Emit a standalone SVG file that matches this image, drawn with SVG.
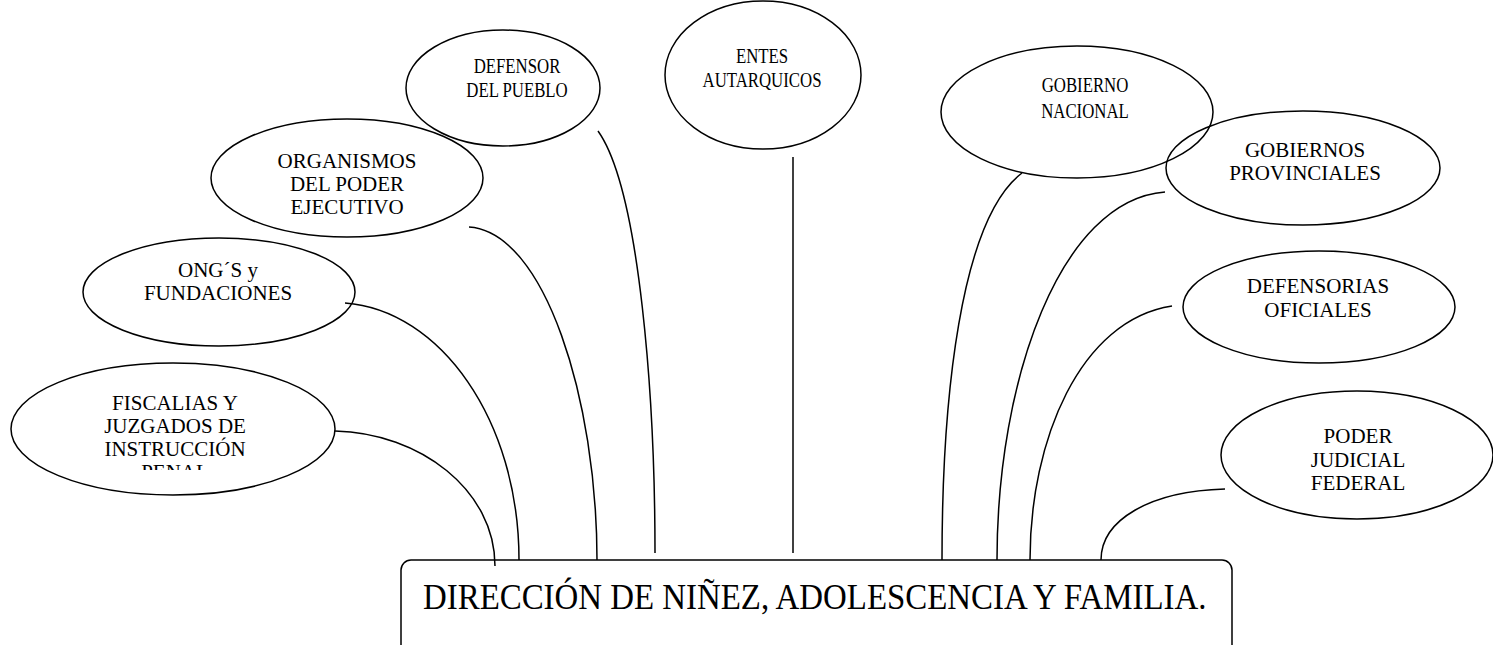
<svg xmlns="http://www.w3.org/2000/svg" width="1493" height="645" viewBox="0 0 1493 645">
<defs>
<style>
.n{fill:none;stroke:#000;stroke-width:1.5}
.t{font-family:"Liberation Serif","Times New Roman",serif;font-size:21px;fill:#000;text-anchor:middle}
.m{font-family:"Liberation Serif","Times New Roman",serif;font-size:35px;fill:#000}
.c{fill:none;stroke:#000;stroke-width:1.5}
</style>
<clipPath id="clipF"><rect x="0" y="360" width="360" height="110"/></clipPath>
<clipPath id="clipO"><rect x="200" y="110" width="300" height="106"/></clipPath>
</defs>
<rect width="1493" height="645" fill="#fff"/>
<g id="connectors">
<path class="c" d="M335,431 C420,433 495,490 495,566"/>
<path class="c" d="M345,303 C440,310 519,420 519,560"/>
<path class="c" d="M469,227 C545,232 597,400 597,560"/>
<path class="c" d="M598,131 C640,190 655,400 655,553"/>
<path class="c" d="M793,157 L793,553"/>
<path class="c" d="M1022,173 C960,220 942,400 942,560"/>
<path class="c" d="M1165,192 C1060,200 997,380 997,560"/>
<path class="c" d="M1172,306 C1080,320 1030,440 1030,560"/>
<path class="c" d="M1225,489 C1150,491 1101,520 1101,560"/>
</g>
<g id="fiscalias">
<ellipse class="n" cx="173" cy="429" rx="162" ry="66"/>
<g clip-path="url(#clipF)">
<text class="t" x="175" y="410">FISCALIAS Y</text>
<text class="t" x="175" y="433">JUZGADOS DE</text>
<text class="t" x="175" y="456">INSTRUCCIÓN</text>
<text class="t" x="175" y="479">PENAL</text>
</g>
</g>
<g id="ongs">
<ellipse class="n" cx="219" cy="292" rx="136" ry="54"/>
<text class="t" x="218" y="277">ONG´S y</text>
<text class="t" x="218" y="300">FUNDACIONES</text>
</g>
<g id="organismos">
<ellipse class="n" cx="347" cy="178" rx="136" ry="59"/>
<g clip-path="url(#clipO)">
<text class="t" x="347" y="168">ORGANISMOS</text>
<text class="t" x="347" y="191">DEL PODER</text>
<text class="t" x="347" y="214">EJECUTIVO</text>
</g>
</g>
<g id="defensor">
<ellipse class="n" cx="503" cy="88" rx="97" ry="58"/>
<text class="t" transform="translate(517,73) scale(0.8,1)">DEFENSOR</text>
<text class="t" transform="translate(517,97) scale(0.8,1)">DEL PUEBLO</text>
</g>
<g id="entes">
<ellipse class="n" cx="763" cy="75" rx="98" ry="74"/>
<text class="t" transform="translate(762,63) scale(0.8,1)">ENTES</text>
<text class="t" transform="translate(762,87) scale(0.8,1)">AUTARQUICOS</text>
</g>
<g id="gobierno-nacional">
<ellipse class="n" cx="1077" cy="112" rx="136" ry="66"/>
<text class="t" transform="translate(1085,92) scale(0.8,1)">GOBIERNO</text>
<text class="t" transform="translate(1085,118) scale(0.8,1)">NACIONAL</text>
</g>
<g id="gobiernos-provinciales">
<ellipse class="n" cx="1303" cy="168" rx="137" ry="57"/>
<text class="t" x="1305" y="157">GOBIERNOS</text>
<text class="t" x="1305" y="180">PROVINCIALES</text>
</g>
<g id="defensorias">
<ellipse class="n" cx="1319" cy="307" rx="136" ry="56"/>
<text class="t" x="1318" y="293">DEFENSORIAS</text>
<text class="t" x="1318" y="317">OFICIALES</text>
</g>
<g id="poder-judicial">
<ellipse class="n" cx="1357" cy="455" rx="136" ry="64"/>
<text class="t" x="1358" y="443">PODER</text>
<text class="t" x="1358" y="467">JUDICIAL</text>
<text class="t" x="1358" y="490">FEDERAL</text>
</g>
<g id="direccion">
<rect class="n" x="401" y="560" width="831" height="110" rx="10"/>
<text class="m" transform="translate(423,609) scale(0.94,1)">DIRECCIÓN DE NIÑEZ, ADOLESCENCIA Y FAMILIA.</text>
</g>
</svg>
